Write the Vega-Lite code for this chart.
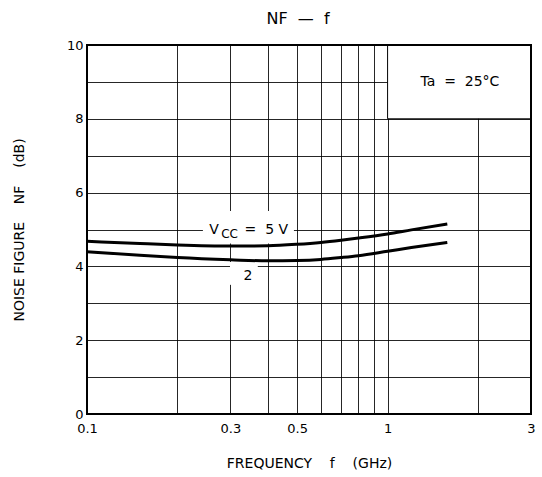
{
  "$schema": "https://vega.github.io/schema/vega-lite/v6.json",
  "autosize": "none",
  "width": 444,
  "height": 369,
  "padding": {"left": 87, "top": 45, "right": 11, "bottom": 63},
  "background": "white",
  "config": {
    "view": {"stroke": null},
    "font": "DejaVu Sans",
    "axis": {"labelFont": "DejaVu Sans", "titleFont": "DejaVu Sans", "labelColor": "black", "titleColor": "black", "labelFontSize": 13, "titleFontSize": 14, "titleFontWeight": "normal", "gridColor": "black", "gridOpacity": 0.85, "gridWidth": 1, "domain": false, "ticks": false}
  },
  "title": {"text": "NF\u00a0\u00a0—\u00a0\u00a0f", "fontSize": 16, "fontWeight": "normal", "font": "DejaVu Sans", "color": "black", "anchor": "middle", "dx": -11, "offset": 12},
  "datasets": {
    "curves": [
      {"series": "5V", "f": 0.1, "nf": 4.68},
      {"series": "5V", "f": 0.15, "nf": 4.62},
      {"series": "5V", "f": 0.2, "nf": 4.58},
      {"series": "5V", "f": 0.3, "nf": 4.55},
      {"series": "5V", "f": 0.4, "nf": 4.56},
      {"series": "5V", "f": 0.5, "nf": 4.6},
      {"series": "5V", "f": 0.6, "nf": 4.65},
      {"series": "5V", "f": 0.7, "nf": 4.71},
      {"series": "5V", "f": 0.8, "nf": 4.77},
      {"series": "5V", "f": 1.0, "nf": 4.88},
      {"series": "5V", "f": 1.2, "nf": 4.99},
      {"series": "5V", "f": 1.58, "nf": 5.15},
      {"series": "2V", "f": 0.1, "nf": 4.4},
      {"series": "2V", "f": 0.15, "nf": 4.3},
      {"series": "2V", "f": 0.2, "nf": 4.24},
      {"series": "2V", "f": 0.3, "nf": 4.18},
      {"series": "2V", "f": 0.4, "nf": 4.15},
      {"series": "2V", "f": 0.5, "nf": 4.16},
      {"series": "2V", "f": 0.6, "nf": 4.19},
      {"series": "2V", "f": 0.7, "nf": 4.24},
      {"series": "2V", "f": 0.8, "nf": 4.29},
      {"series": "2V", "f": 1.0, "nf": 4.41},
      {"series": "2V", "f": 1.2, "nf": 4.51},
      {"series": "2V", "f": 1.58, "nf": 4.65}
    ],
    "whiteBoxes": [
      {"f": 0.243, "f2": 0.488, "nf": 4.62, "nf2": 5.5},
      {"f": 0.299, "f2": 0.37, "nf": 3.5, "nf2": 4.12}
    ],
    "tempBox": [{"f": 1, "f2": 3, "nf": 8, "nf2": 10}],
    "frame": [{"f": 0.1, "f2": 3, "nf": 0, "nf2": 10}],
    "mainText": [
      {"text": "Ta\u00a0\u00a0=\u00a0\u00a025°C", "f": 1.74, "nf": 9.0},
      {"text": "V", "f": 0.2645, "nf": 5.0},
      {"text": "=\u00a0\u00a05\u00a0V", "f": 0.395, "nf": 5.0},
      {"text": "2", "f": 0.343, "nf": 3.74}
    ],
    "subText": [{"text": "CC", "f": 0.298, "nf": 4.88}]
  },
  "encoding": {
    "x": {"field": "f", "type": "quantitative", "scale": {"type": "log", "domain": [0.1, 3], "nice": false},
      "axis": {"title": "FREQUENCY\u00a0\u00a0\u00a0\u00a0f\u00a0\u00a0\u00a0\u00a0(GHz)", "values": [0.1, 0.2, 0.3, 0.4, 0.5, 0.6, 0.7, 0.8, 0.9, 1, 2, 3],
        "labelExpr": "indexof([0.1,0.3,0.5,1,3], datum.value) >= 0 ? datum.label : ''", "format": "~g", "labelPadding": 8, "titlePadding": 21, "grid": true, "labelFlush": false}},
    "y": {"field": "nf", "type": "quantitative", "scale": {"domain": [0, 10], "nice": false},
      "axis": {"title": "NOISE\u00a0FIGURE\u00a0\u00a0\u00a0\u00a0NF\u00a0\u00a0\u00a0\u00a0(dB)", "values": [0, 1, 2, 3, 4, 5, 6, 7, 8, 9, 10],
        "labelExpr": "datum.value % 2 == 0 ? datum.label : ''", "labelPadding": 4, "titlePadding": 40, "grid": true, "labelFlush": false}}
  },
  "layer": [
    {"data": {"name": "tempBox"}, "mark": {"type": "rect", "fill": "white", "stroke": "black", "strokeWidth": 1},
      "encoding": {"x2": {"field": "f2"}, "y2": {"field": "nf2"}}},
    {"data": {"name": "whiteBoxes"}, "mark": {"type": "rect", "fill": "white"},
      "encoding": {"x2": {"field": "f2"}, "y2": {"field": "nf2"}}},
    {"data": {"name": "curves"}, "mark": {"type": "line", "color": "black", "strokeWidth": 3, "interpolate": "monotone"},
      "encoding": {"detail": {"field": "series"}}},
    {"data": {"name": "mainText"}, "mark": {"type": "text", "fontSize": 14, "color": "black", "align": "center", "baseline": "middle", "font": "DejaVu Sans"},
      "encoding": {"text": {"field": "text"}}},
    {"data": {"name": "subText"}, "mark": {"type": "text", "fontSize": 12, "color": "black", "align": "center", "baseline": "middle", "font": "DejaVu Sans"},
      "encoding": {"text": {"field": "text"}}},
    {"data": {"name": "frame"}, "mark": {"type": "rect", "fill": null, "stroke": "black", "strokeWidth": 2},
      "encoding": {"x2": {"field": "f2"}, "y2": {"field": "nf2"}}}
  ]
}
